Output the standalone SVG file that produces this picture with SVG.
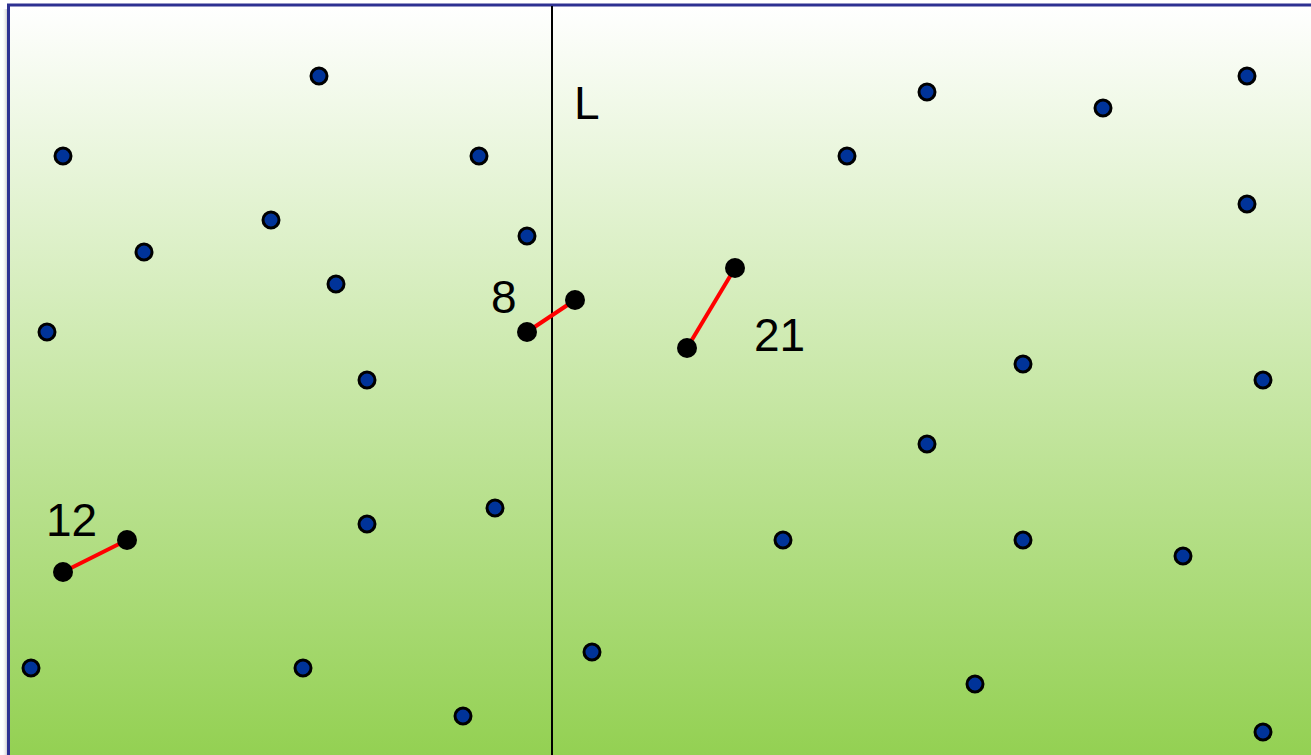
<svg xmlns="http://www.w3.org/2000/svg" width="1311" height="755" viewBox="0 0 1311 755">
<defs>
<linearGradient id="bg" x1="0" y1="0" x2="0" y2="1">
<stop offset="0" stop-color="#ffffff"/>
<stop offset="1" stop-color="#92d050"/>
</linearGradient>
<linearGradient id="sh" x1="0" y1="0" x2="1" y2="0">
<stop offset="0" stop-color="#ffffff" stop-opacity="0"/>
<stop offset="1" stop-color="#999999" stop-opacity="0.7"/>
</linearGradient>
<style>
.p{fill:#003399;stroke:#000;stroke-width:3}
.b{fill:#000}
.e{stroke:#ff0000;stroke-width:4}
.t{font-family:"Liberation Sans",Arial,sans-serif;font-size:46px;fill:#000}
</style>
</defs>
<rect x="0" y="0" width="1311" height="755" fill="#ffffff"/>
<rect x="2" y="9" width="6" height="746" fill="url(#sh)"/>
<rect x="8.5" y="5" width="1320" height="760" fill="url(#bg)" stroke="#2e3192" stroke-width="3"/>
<line x1="552" y1="6" x2="552" y2="755" stroke="#000" stroke-width="2"/>
<g id="connectors">
<line class="e" x1="527" y1="332" x2="575" y2="300"/>
<line class="e" x1="63" y1="572" x2="127" y2="540"/>
<line class="e" x1="687" y1="348" x2="735" y2="268"/>
</g>
<g id="points">
<circle class="p" cx="319" cy="76" r="8"/>
<circle class="p" cx="63" cy="156" r="8"/>
<circle class="p" cx="479" cy="156" r="8"/>
<circle class="p" cx="271" cy="220" r="8"/>
<circle class="p" cx="144" cy="252" r="8"/>
<circle class="p" cx="527" cy="236" r="8"/>
<circle class="p" cx="336" cy="284" r="8"/>
<circle class="p" cx="47" cy="332" r="8"/>
<circle class="p" cx="367" cy="380" r="8"/>
<circle class="p" cx="367" cy="524" r="8"/>
<circle class="p" cx="495" cy="508" r="8"/>
<circle class="p" cx="31" cy="668" r="8"/>
<circle class="p" cx="303" cy="668" r="8"/>
<circle class="p" cx="463" cy="716" r="8"/>
<circle class="p" cx="927" cy="92" r="8"/>
<circle class="p" cx="1103" cy="108" r="8"/>
<circle class="p" cx="1247" cy="76" r="8"/>
<circle class="p" cx="847" cy="156" r="8"/>
<circle class="p" cx="1247" cy="204" r="8"/>
<circle class="p" cx="1023" cy="364" r="8"/>
<circle class="p" cx="1263" cy="380" r="8"/>
<circle class="p" cx="927" cy="444" r="8"/>
<circle class="p" cx="783" cy="540" r="8"/>
<circle class="p" cx="1023" cy="540" r="8"/>
<circle class="p" cx="1183" cy="556" r="8"/>
<circle class="p" cx="592" cy="652" r="8"/>
<circle class="p" cx="975" cy="684" r="8"/>
<circle class="p" cx="1263" cy="732" r="8"/>
</g>
<g id="pair8">
<circle class="b" cx="527" cy="332" r="10"/>
<circle class="b" cx="575" cy="300" r="10"/>
<text class="t" x="491" y="313">8</text>
</g>
<g id="pair12">
<circle class="b" cx="63" cy="572" r="10"/>
<circle class="b" cx="127" cy="540" r="10"/>
<text class="t" x="46" y="536">12</text>
</g>
<g id="pair21">
<circle class="b" cx="687" cy="348" r="10"/>
<circle class="b" cx="735" cy="268" r="10"/>
<text class="t" x="754" y="351">21</text>
</g>
<g id="label-L">
<text class="t" x="574" y="119">L</text>
</g>
</svg>
